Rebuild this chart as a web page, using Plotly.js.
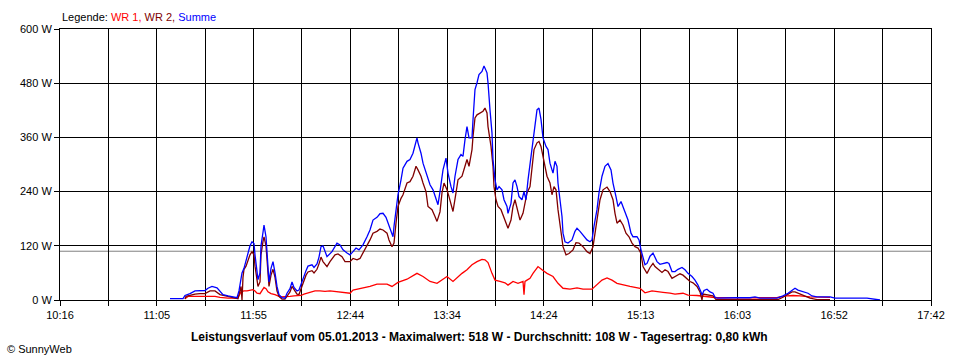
<!DOCTYPE html>
<html>
<head>
<meta charset="utf-8">
<script src="https://cdn.plot.ly/plotly-3.0.1.min.js"></script>
<style>
html,body{margin:0;padding:0;background:#fff;}
#chart{width:960px;height:360px;}
</style>
</head>
<body>
<div id="chart"></div>
<script>
// ---- Data ----
const xTickLabels = ["10:16","11:05","11:55","12:44","13:34","14:24","15:13","16:03","16:52","17:42"];
const yTickValues = [0,120,240,360,480,600];
const averageW = 108;
const maxW = 518;

const tSumme = ["11:12:20","11:19:00","11:20:00","11:22:34","11:25:08","11:27:41","11:30:15","11:31:47","11:33:50","11:36:24","11:37:56","11:39:28","11:42:02","11:44:35","11:46:38","11:47:39","11:48:41","11:49:12","11:50:13","11:51:15","11:52:16","11:53:17","11:54:19","11:55:20","11:55:51","11:56:53","11:57:23","11:58:25","11:58:55","11:59:57","12:00:28","12:01:29","12:02:00","12:02:30","12:03:01","12:04:03","12:05:04","12:06:06","12:07:07","12:08:08","12:09:41","12:11:13","12:12:14","12:13:46","12:14:48","12:15:49","12:17:21","12:18:23","12:19:24","12:20:26","12:21:58","12:22:59","12:25:02","12:26:04","12:27:36","12:28:37","12:29:39","12:30:40","12:31:42","12:32:43","12:35:17","12:37:50","12:39:23","12:40:55","12:42:58","12:44:30","12:46:02","12:47:34","12:49:06","12:51:09","12:53:12","12:54:44","12:56:16","12:58:19","12:59:51","13:01:24","13:02:56","13:03:57","13:05:29","13:06:31","13:07:02","13:08:34","13:09:04","13:10:37","13:11:38","13:13:41","13:15:13","13:16:45","13:17:47","13:18:48","13:19:19","13:20:51","13:21:53","13:23:55","13:25:28","13:27:00","13:28:32","13:29:33","13:30:35","13:32:07","13:33:39","13:34:41","13:36:13","13:37:14","13:38:16","13:39:48","13:41:20","13:42:21","13:43:23","13:44:24","13:45:26","13:46:58","13:47:29","13:48:30","13:49:32","13:50:33","13:52:05","13:53:07","13:54:39","13:55:10","13:56:11","13:57:12","13:57:43","13:58:45","13:59:46","14:00:48","14:02:20","14:03:21","14:04:53","14:05:24","14:06:56","14:07:58","14:08:59","14:10:01","14:11:02","14:12:34","14:13:36","14:14:37","14:15:39","14:17:11","14:18:12","14:19:14","14:20:15","14:21:16","14:22:18","14:23:19","14:24:52","14:25:53","14:26:54","14:27:56","14:28:27","14:29:28","14:30:29","14:31:00","14:32:02","14:33:03","14:33:34","14:34:35","14:36:07","14:38:10","14:39:42","14:40:44","14:42:16","14:43:48","14:45:51","14:47:23","14:48:25","14:49:26","14:50:58","14:52:00","14:53:32","14:55:04","14:56:36","14:58:09","14:59:10","15:00:42","15:01:44","15:03:16","15:04:17","15:05:49","15:06:51","15:08:23","15:09:24","15:11:27","15:12:29","15:13:30","15:14:32","15:15:33","15:16:35","15:18:07","15:19:39","15:21:42","15:23:14","15:24:46","15:26:49","15:27:50","15:29:23","15:30:55","15:32:27","15:34:30","15:36:02","15:37:34","15:39:37","15:41:09","15:42:41","15:44:14","15:44:44","15:45:46","15:47:18","15:48:50","15:50:22","15:51:24","15:52:25","16:01:38","16:09:19","16:11:53","16:14:26","16:23:09","16:24:41","16:26:13","16:28:47","16:30:49","16:32:22","16:33:54","16:36:27","16:39:01","16:41:04","16:43:38","16:50:17","16:52:51","17:09:14","17:14:21","17:15:53"];
const summe = [3,3,10,14,20,21,21,26,30,27,20,12,9,6,5,20,45,60,70,85,100,120,129,125,100,60,45,60,120,150,166,140,100,50,40,70,85,60,30,12,5,4,15,25,40,28,20,22,35,50,65,75,78,72,80,95,118,120,107,96,107,126,122,111,104,100,107,115,111,122,140,155,177,183,191,192,183,170,148,140,163,214,233,266,292,307,311,325,344,359,348,325,303,274,255,244,222,211,240,288,314,281,251,237,274,311,322,318,355,384,359,359,399,466,481,499,506,518,503,481,421,370,311,266,244,251,244,222,207,192,214,259,266,251,229,222,240,222,266,318,362,392,421,425,400,359,340,333,303,288,281,307,296,259,222,185,148,129,126,133,152,159,152,144,133,129,133,163,200,237,274,296,302,288,259,229,207,218,207,188,177,148,140,140,133,111,96,78,81,97,104,85,79,81,83,81,63,63,68,72,67,59,52,44,33,18,11,21,24,18,15,6,4,5,5,7,4,4,6,9,15,22,26,22,18,15,9,7,7,4,4,2,0];

const tWR2 = ["11:20:00","11:20:31","11:22:34","11:25:08","11:27:41","11:30:15","11:32:48","11:35:22","11:37:56","11:40:29","11:43:03","11:45:37","11:47:09","11:48:41","11:49:12","11:49:42","11:50:13","11:51:15","11:52:16","11:53:17","11:54:19","11:55:20","11:55:51","11:56:53","11:57:23","11:58:25","11:58:55","11:59:57","12:00:28","12:01:29","12:02:00","12:02:30","12:03:01","12:04:03","12:05:04","12:06:06","12:07:07","12:08:08","12:09:41","12:11:13","12:12:14","12:13:46","12:14:48","12:15:49","12:17:21","12:18:23","12:19:24","12:20:26","12:21:58","12:22:59","12:25:02","12:26:04","12:27:36","12:28:37","12:29:39","12:30:40","12:32:43","12:34:15","12:36:49","12:38:21","12:40:24","12:41:56","12:44:30","12:46:02","12:48:05","12:49:37","12:51:09","12:53:12","12:54:44","12:56:16","12:58:19","12:59:51","13:01:24","13:03:27","13:04:28","13:06:00","13:07:02","13:08:03","13:09:04","13:10:37","13:11:38","13:13:41","13:15:13","13:16:45","13:18:18","13:19:19","13:20:51","13:21:53","13:23:25","13:24:26","13:26:29","13:28:01","13:29:03","13:30:35","13:31:36","13:32:38","13:34:10","13:35:11","13:36:44","13:37:14","13:38:46","13:39:48","13:41:51","13:42:52","13:44:24","13:45:26","13:46:58","13:47:29","13:48:30","13:49:32","13:51:04","13:52:36","13:53:37","13:54:39","13:55:10","13:56:42","13:57:43","13:58:14","13:59:15","14:00:17","14:01:49","14:02:50","14:04:23","14:05:24","14:06:56","14:07:58","14:08:59","14:10:01","14:11:33","14:13:05","14:14:06","14:15:08","14:16:40","14:17:41","14:18:43","14:20:15","14:21:16","14:22:18","14:23:19","14:24:21","14:25:22","14:26:54","14:27:56","14:28:57","14:29:59","14:31:00","14:32:32","14:33:34","14:35:06","14:36:38","14:38:41","14:40:13","14:41:45","14:43:48","14:45:51","14:47:23","14:48:56","14:49:57","14:50:58","14:52:31","14:54:03","14:56:06","14:57:38","14:59:10","15:00:11","15:01:13","15:02:45","15:04:17","15:05:49","15:07:22","15:08:54","15:10:26","15:11:58","15:13:30","15:14:32","15:16:35","15:18:07","15:19:39","15:20:40","15:22:13","15:24:15","15:25:48","15:27:20","15:29:23","15:30:55","15:33:28","15:35:01","15:37:03","15:38:36","15:40:08","15:42:11","15:43:43","15:44:44","15:45:15","15:47:49","15:50:22","15:51:54","16:11:53","16:23:39","16:26:13","16:28:47","16:30:49","16:32:22","16:34:55","16:37:29","16:40:02","16:43:38","16:50:17"];
const wr2 = [2,8,10,13,14,14,20,20,12,10,7,4,3,30,0,50,68,75,90,100,107,100,75,40,30,40,100,130,140,120,80,40,30,55,68,50,20,8,2,2,8,18,30,22,13,12,25,40,55,62,65,60,68,80,95,85,74,85,100,102,96,85,85,92,89,92,104,118,133,148,152,157,155,148,133,118,126,170,207,225,233,259,262,274,296,288,274,259,240,207,200,185,174,195,237,259,244,229,207,196,237,266,274,288,311,296,333,362,403,410,414,418,425,414,384,340,296,251,222,207,200,189,170,159,177,207,222,203,177,192,214,237,251,296,333,348,351,340,318,296,274,259,233,251,244,200,148,118,100,103,111,127,126,118,107,103,118,148,185,222,244,250,240,222,192,170,177,166,148,140,126,118,115,103,74,59,72,81,74,68,61,67,63,48,52,58,55,48,41,38,30,18,0,13,11,9,1,1,1,6,13,18,18,13,9,4,1,1];

const tWR1 = ["11:20:00","11:21:33","11:27:41","11:35:22","11:37:56","11:42:02","11:45:37","11:47:09","11:48:41","11:50:13","11:51:45","11:53:17","11:54:50","11:55:51","11:56:53","11:58:25","11:59:26","12:00:28","12:01:29","12:02:30","12:04:03","12:06:06","12:08:39","12:11:13","12:13:46","12:15:49","12:17:52","12:19:24","12:20:56","12:22:29","12:24:01","12:26:34","12:29:08","12:31:42","12:34:15","12:39:23","12:44:30","12:46:02","12:49:37","12:54:44","12:58:19","13:03:27","13:06:00","13:09:04","13:13:41","13:18:48","13:21:53","13:25:28","13:29:03","13:34:10","13:37:14","13:39:48","13:41:51","13:44:24","13:46:58","13:49:32","13:52:05","13:53:37","13:55:10","13:57:12","13:58:45","14:01:18","14:03:52","14:05:24","14:07:58","14:10:31","14:13:05","14:13:36","14:14:06","14:15:08","14:16:40","14:18:12","14:20:46","14:22:49","14:25:22","14:28:27","14:31:00","14:33:34","14:37:09","14:40:44","14:43:48","14:48:25","14:50:58","14:53:32","14:56:06","14:58:39","15:01:13","15:04:17","15:07:52","15:13:00","15:15:33","15:19:08","15:21:42","15:24:46","15:28:21","15:30:55","15:35:01","15:37:34","15:42:11","15:45:15","15:50:22","15:52:25","16:23:09","16:24:41","16:28:16","16:31:20","16:34:55","16:40:02","16:50:17"];
const wr1 = [3,8,8,8,6,4,4,5,18,20,20,22,23,20,15,14,20,28,25,18,14,12,7,7,8,9,9,10,13,15,18,20,20,19,20,18,15,22,25,30,35,35,30,39,46,59,52,41,37,52,41,52,59,67,78,85,90,89,83,59,44,41,38,33,41,37,41,12,41,44,48,59,74,67,59,52,37,26,24,27,24,24,33,44,49,44,37,33,30,26,16,20,18,17,15,13,15,11,10,9,7,5,5,7,9,10,9,7,6];

// ---- helpers ----
function toMin(s){ const p = s.split(":").map(Number); return p[0]*60 + p[1] + (p[2]||0)/60; }

const xStart = toMin(xTickLabels[0]);
const xEnd = toMin(xTickLabels[xTickLabels.length-1]);
const nGrid = (xTickLabels.length-1)*2;
const tickVals = [], tickText = [];
for (let i=0;i<=nGrid;i++){
  tickVals.push(xStart + (xEnd-xStart)*i/nGrid);
  tickText.push(i%2===0 ? xTickLabels[i/2] : "");
}

const FONT = "'Liberation Sans', Arial, sans-serif";

const traces = [
  {x: tWR1.map(toMin), y: wr1, name: "WR 1", type: "scatter", mode: "lines", line: {color: "#ff0000", width: 1.3}},
  {x: tWR2.map(toMin), y: wr2, name: "WR 2", type: "scatter", mode: "lines", line: {color: "#800000", width: 1.3}},
  {x: tSumme.map(toMin), y: summe, name: "Summe", type: "scatter", mode: "lines", line: {color: "#0000ff", width: 1.3}}
];

const layout = {
  width: 960, height: 360,
  margin: {l: 60, r: 29, t: 29, b: 60},
  paper_bgcolor: "#ffffff", plot_bgcolor: "#ffffff",
  showlegend: false,
  font: {family: FONT, size: 11, color: "#000"},
  xaxis: {
    type: "linear", range: [xStart, xEnd], tickmode: "array", tickvals: tickVals, ticktext: tickText,
    showgrid: true, gridcolor: "#000", gridwidth: 1, zeroline: false,
    showline: true, linecolor: "#000", linewidth: 1, mirror: true,
    ticks: "outside", ticklen: 5, tickcolor: "#000", tickfont: {family: FONT, size: 11, color: "#000"}
  },
  yaxis: {
    range: [0, 600], tickmode: "array", tickvals: yTickValues, ticktext: yTickValues.map(v => v + " W"),
    showgrid: true, gridcolor: "#000", gridwidth: 1, zeroline: false,
    showline: true, linecolor: "#000", linewidth: 1, mirror: true,
    ticks: "outside", ticklen: 5, tickcolor: "#000", tickfont: {family: FONT, size: 11, color: "#000"}
  },
  shapes: [
    {type: "line", xref: "paper", x0: 0, x1: 1, yref: "y", y0: averageW, y1: averageW,
     line: {color: "#808080", width: 1}, layer: "between"}
  ],
  annotations: [
    {xref: "paper", yref: "paper", x: 0, y: 1.045, xanchor: "left", yanchor: "middle", showarrow: false,
     text: 'Legende: <span style="color:#ff0000">WR 1,</span> <span style="color:#800000">WR 2,</span> <span style="color:#0000ff">Summe</span>',
     font: {family: FONT, size: 11, color: "#000"}},
    {xref: "paper", yref: "paper", x: 0.482, y: -0.1365, xanchor: "center", yanchor: "middle", showarrow: false,
     text: "<b>Leistungsverlauf vom 05.01.2013 - Maximalwert: " + maxW + " W - Durchschnitt: " + averageW + " W - Tagesertrag: 0,80 kWh</b>",
     font: {family: FONT, size: 12, color: "#000"}},
    {xref: "paper", yref: "paper", x: -0.063, y: -0.181, xanchor: "left", yanchor: "middle", showarrow: false,
     text: "© SunnyWeb", font: {family: FONT, size: 11, color: "#000"}}
  ]
};

Plotly.newPlot("chart", traces, layout, {staticPlot: true, displayModeBar: false});
</script>
</body>
</html>
